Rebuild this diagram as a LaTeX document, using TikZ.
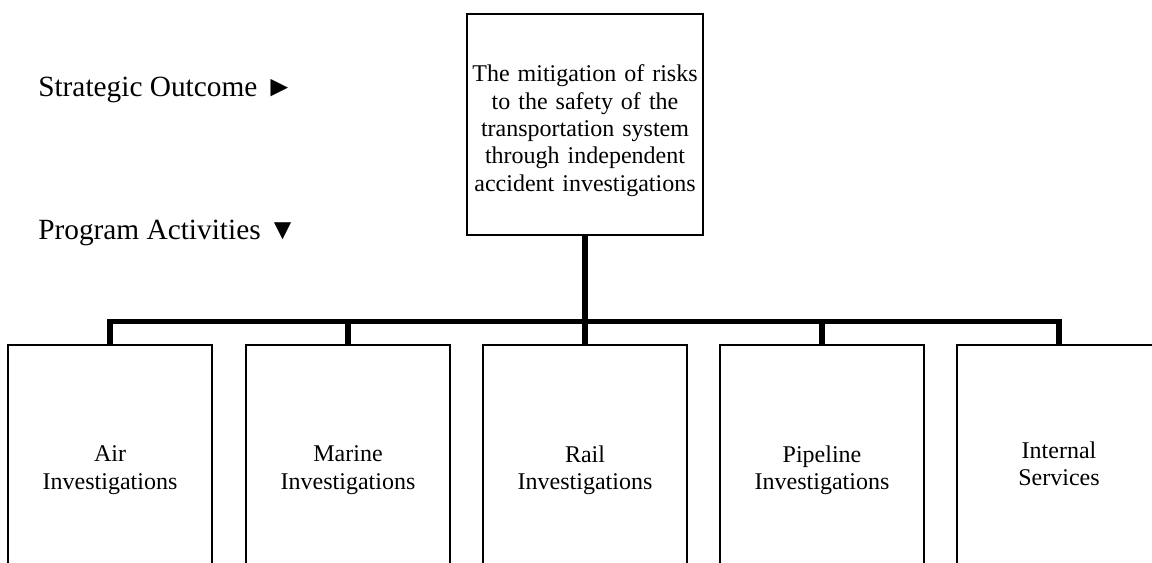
\documentclass[tikz,border=0pt]{standalone}
\usepackage{fontspec}
\setmainfont{Liberation Serif}
\usepackage{tikz}
\usetikzlibrary{positioning}

\begin{document}
\begin{tikzpicture}[x=0.75pt,y=-0.75pt]
\tikzstyle{every node}+=[inner sep=0pt]
\tikzstyle{box}=[draw=black,line width=1.1pt,align=center,font=\fontsize{18}{20.5}\selectfont]
\tikzstyle{pabox}=[box,minimum width=153pt,minimum height=187.5pt,text width=140pt]
\tikzstyle{link}=[draw=black,line width=4.4pt,line join=miter,line cap=butt]
\tikzstyle{sidelabel}=[anchor=west,font=\fontsize{22}{24}\selectfont]
\useasboundingbox (0,0) rectangle (1152,563);
\clip (0,0) rectangle (1152,563);
% strategic outcome
\node[box,minimum width=177pt,minimum height=165.75pt,text width=170pt] (outcome) at (585,124.5)
  {\rule{0pt}{22pt}The mitigation of risks\\to the safety of the\\transportation system\\through independent\\accident investigations};
\node[sidelabel] (solabel) at (38,90) {Strategic Outcome ►};
\node[sidelabel] (palabel) at (38,233) {Program Activities ▼};
% program activities
\node[pabox] (air) at (110,470) {Air\\Investigations};
\node[pabox] (marine) at (348,470) {Marine\\Investigations};
\node[pabox] (rail) at (585,470) {Rail\\Investigations};
\node[pabox] (pipe) at (822,470) {Pipeline\\Investigations};
\node[pabox] (internal) at (1059,470) {Internal\\Services\rule[-9pt]{0pt}{0pt}};
% connectors
\coordinate (bar) at (585,321.5);
\draw[link] (outcome.south) -- (bar);
\draw[link] (air.north) -- (air.north |- bar) -- (internal.north |- bar) -- (internal.north);
\draw[link] (marine.north) -- (marine.north |- bar);
\draw[link] (rail.north) -- (bar);
\draw[link] (pipe.north) -- (pipe.north |- bar);
\end{tikzpicture}
\end{document}
